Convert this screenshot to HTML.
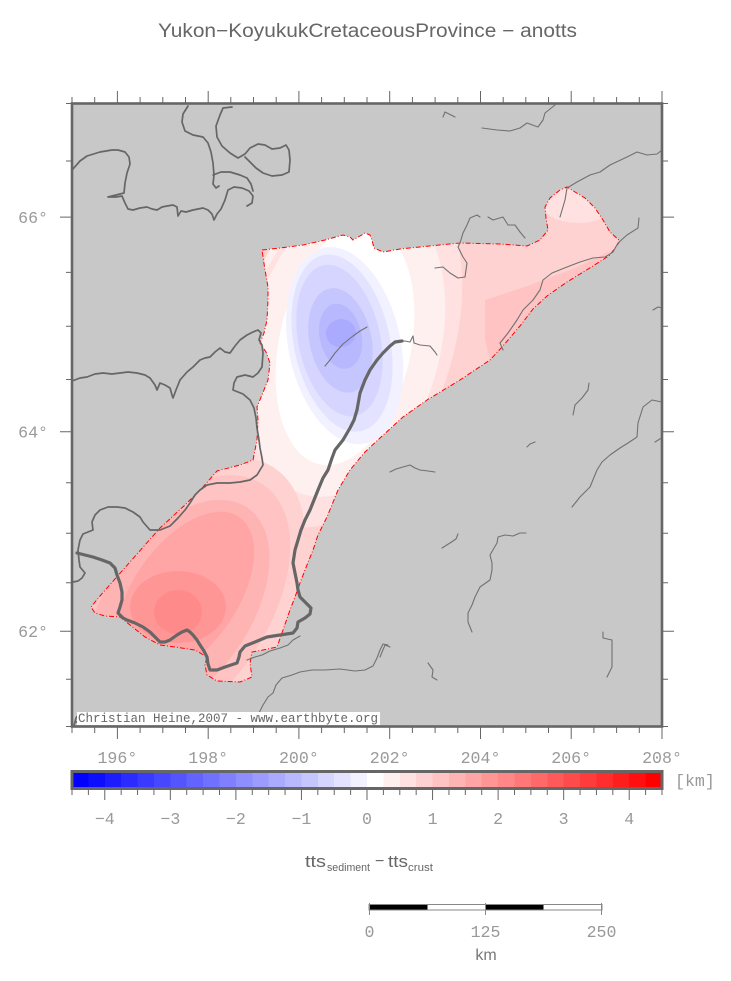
<!DOCTYPE html>
<html><head><meta charset="utf-8"><style>
html,body{margin:0;padding:0;background:#fff;}
svg{display:block;}
.mono{font-family:"Liberation Mono","DejaVu Sans Mono",monospace;font-size:16.6px;fill:#999;}
.sans{font-family:"Liberation Sans","DejaVu Sans",sans-serif;}
</style></head><body>
<svg width="731" height="981" viewBox="0 0 731 981" xmlns="http://www.w3.org/2000/svg">
<defs>
<clipPath id="poly"><polygon points="262,250 280,248 303,245 325,240 343,235 350,237 353,240 360,236 365,233 370,235 372,240 374,248 383,252 400,249 420,247 460,243 500,244 527,246 540,240 548,230 546,218 545,207 550,198 560,190 567,187 575,192 585,198 595,208 603,220 610,232 620,241 610,255 593,266 567,282 547,296 533,309 520,326 503,346 490,360 460,380 427,400 403,417 380,438 365,452 350,470 338,490 327,517 318,535 313,550 305,570 300,583 295,597 290,610 283,630 277,647 263,650 252,652 250,663 252,677 240,682 217,681 207,675 205,665 207,657 195,650 175,647 160,645 145,637 130,625 120,617 105,616 95,613 91,607 100,596 130,562 160,528 185,505 203,487 217,471 240,465 253,460 257,440 258,420 257,407 262,395 268,380 270,363 266,352 260,343 264,333 267,320 268,300 268,287 265,270"/></clipPath>
<clipPath id="frame"><rect x="72" y="103.5" width="590" height="623"/></clipPath>
</defs>

<!-- title -->
<text class="sans" x="158" y="37" font-size="19" fill="#666" textLength="419" lengthAdjust="spacingAndGlyphs">Yukon−KoyukukCretaceousProvince − anotts</text>

<!-- map background -->
<rect x="72" y="103.5" width="590" height="623" fill="#c8c8c8"/>

<!-- colored field -->
<g clip-path="url(#poly)">
<rect x="80" y="180" width="560" height="520" fill="#ffd2d2"/>
<ellipse cx="578" cy="205" rx="35" ry="18" fill="#ffe1e1"/>
<polygon points="485,300 530,285 575,268 612,250 593,266 567,282 547,296 533,309 520,326 503,346 490,360 485,340" fill="#ffc3c3"/>
<ellipse cx="290" cy="300" rx="32" ry="65" fill="#fff0f0"/>
<ellipse cx="345" cy="350" rx="105" ry="185" transform="rotate(20 345 350)" fill="#ffe1e1"/>
<ellipse cx="345" cy="345" rx="95" ry="155" transform="rotate(15 345 345)" fill="#fff0f0"/>
<ellipse cx="345" cy="345" rx="66" ry="122" transform="rotate(12 345 345)" fill="#ffffff"/>
<!-- red lobe -->
<ellipse cx="178" cy="608" rx="100" ry="170" transform="rotate(35 178 608)" fill="#ffd2d2"/>
<ellipse cx="178" cy="608" rx="88" ry="150" transform="rotate(35 178 608)" fill="#ffc3c3"/>
<ellipse cx="178" cy="608" rx="72" ry="122" transform="rotate(35 178 608)" fill="#ffb4b4"/>
<ellipse cx="185" cy="595" rx="52" ry="95" transform="rotate(35 185 595)" fill="#ffa5a5"/>
<ellipse cx="178" cy="607" rx="48" ry="36" fill="#ff9696"/>
<ellipse cx="178" cy="612" rx="24" ry="22" fill="#ff8a8a"/>
<!-- blue rings -->
<g transform="rotate(-12 342 338)">
<ellipse cx="343" cy="346" rx="56" ry="100" fill="#f1f1ff"/>
<ellipse cx="341" cy="343" rx="48" ry="90" fill="#e3e3ff"/>
<ellipse cx="339" cy="340" rx="41" ry="77" fill="#d5d5ff"/>
<ellipse cx="340" cy="340" rx="31" ry="53" fill="#c6c6ff"/>
<ellipse cx="341" cy="336" rx="21" ry="33" fill="#b8b8ff"/>
<ellipse cx="342" cy="333" rx="15" ry="14" fill="#aaaaff"/>
</g>
</g>
<polygon points="262,250 280,248 303,245 325,240 343,235 350,237 353,240 360,236 365,233 370,235 372,240 374,248 383,252 400,249 420,247 460,243 500,244 527,246 540,240 548,230 546,218 545,207 550,198 560,190 567,187 575,192 585,198 595,208 603,220 610,232 620,241 610,255 593,266 567,282 547,296 533,309 520,326 503,346 490,360 460,380 427,400 403,417 380,438 365,452 350,470 338,490 327,517 318,535 313,550 305,570 300,583 295,597 290,610 283,630 277,647 263,650 252,652 250,663 252,677 240,682 217,681 207,675 205,665 207,657 195,650 175,647 160,645 145,637 130,625 120,617 105,616 95,613 91,607 100,596 130,562 160,528 185,505 203,487 217,471 240,465 253,460 257,440 258,420 257,407 262,395 268,380 270,363 266,352 260,343 264,333 267,320 268,300 268,287 265,270" fill="none" stroke="#ff0000" stroke-width="1" stroke-dasharray="5,2,1,2"/>

<g clip-path="url(#frame)" fill="none" stroke-linejoin="round" stroke-linecap="round">
<!-- rivers -->
<g stroke="#717171" stroke-width="1.1">
<path d="M325,366 L330,360 L335,353 L343,344 L353,336 L360,331 L367,327"/>
<path d="M395,342 L405,341 L410,342 L413,336 L414,343 L420,345 L430,346 L435,352 L437,355"/>
<path d="M252,727 L258,715 L263,705 L268,697 L273,693 L276,685 L282,678 L292,675 L300,672 L312,670 L325,670 L340,669 L355,671 L365,670 L373,666 L377,658 L380,650 L383,644 L388,645"/>
<path d="M247,660 L255,657 L262,655 L270,651 L280,648 L288,645 L293,640 L300,636"/>
<path d="M573,415 L575,405 L582,398 L588,390 L589,383"/>
<path d="M572,507 L580,497 L590,487 L597,470 L602,462 L610,455 L620,448 L628,443 L637,437 L638,423 L643,407 L652,400 L662,402"/>
<path d="M655,442 L663,437"/>
<path d="M527,447 L530,444 L535,442"/>
<path d="M390,472 L396,469 L403,467 L410,465 L415,468 L420,470 L428,471 L435,472"/>
<path d="M442,548 L450,543 L456,539 L458,534"/>
<path d="M472,632 L468,622 L468,613 L472,605 L475,597 L480,587 L490,580 L492,570 L492,563 L490,555 L497,543 L498,537 L505,535 L513,536 L520,533 L526,533"/>
<path d="M603,632 L603,638 L612,640 L612,667 L607,677"/>
<path d="M428,663 L433,670 L432,677 L437,680"/>
<path d="M380,657 L385,645 L390,647"/>
<path d="M443,117 L445,112 L455,117"/>
<path d="M482,128 L497,130 L510,131 L520,128 L527,123 L538,127 L543,120 L545,113 L555,105"/>
<path d="M560,217 L565,200 L567,188 L577,182 L590,175 L600,172 L610,165 L627,157 L637,152 L647,155 L657,154 L662,150"/>
<path d="M435,268 L443,267 L450,273 L458,278 L465,277 L467,263 L463,257 L458,247 L460,243 L463,233 L467,225 L470,218 L477,215 L480,217"/>
<path d="M488,217 L493,220 L503,217 L508,225 L515,225 L520,232 L525,238"/>
<path d="M503,350 L500,343 L508,333 L517,320 L523,310 L533,300 L540,290 L543,280 L552,273 L567,267 L580,262 L593,258 L605,257 L613,252 L618,243 L627,235 L638,228 L639,218"/>
<path d="M653,310 L658,307 L662,308"/>
</g>
<!-- coastlines -->
<g stroke="#666" stroke-width="1.7">
<path d="M72,170 L80,161 L87,156 L100,152 L112,150 L118,150 L125,152 L129,157 L130,164 L127,173 L125,183 L124,193 L116,195 L108,197 L116,197 L122,196 L125,203 L128,209 L133,210 L140,208 L147,207 L152,209 L157,210 L162,207 L167,206 L173,205 L177,207 L178,216 L181,211 L186,212 L193,210 L198,209 L203,208 L208,210 L212,214 L214,220 L217,214 L221,209 L225,200 L228,190 L234,187 L242,188 L249,191 L253,196 L252,203 L247,206"/>
<path d="M188,106 L183,114 L182,122 L185,131 L193,135 L203,137 L208,143 L211,152 L213,163 L214,175 L213,184 L216,188 L219,186"/>
<path d="M213,175 L221,172 L230,172 L240,175 L247,178 L251,184 L253,191"/>
<path d="M232,107 L223,108 L220,115 L216,126 L217,137 L222,146 L230,153 L238,158 L245,154 L250,148 L258,144 L265,145 L272,149 L280,148 L286,145 L289,150 L290,160 L289,172 L282,175 L272,176 L263,173 L256,168 L250,162 L245,157"/>
<path d="M72,381 L80,378 L87,377 L95,374 L103,373 L112,374 L120,373 L128,372 L137,373 L145,375 L150,378 L155,385 L157,390 L160,383 L165,385 L170,388 L172,395 L173,398 L176,390 L180,380 L187,372 L193,367 L200,360 L205,358 L210,357 L215,352 L220,348 L225,352 L230,353 L235,346 L240,340 L247,335 L253,332 L258,330 L261,333 L259,340 L262,345 L263,353 L262,367 L258,373 L253,377 L245,375 L237,377 L234,383 L233,390 L238,392 L243,394 L250,400 L254,408 L256,418 L257,428 L259,440 L260,448 L262,458 L263,465 L260,470 L257,475 L250,480 L240,482 L230,483 L217,483 L207,485 L200,490 L195,495 L190,503 L185,510 L178,518 L170,526 L160,530 L150,530 L143,522 L140,517 L133,512 L125,508 L117,507 L108,507 L100,510 L95,515 L92,522 L93,530 L88,532 L83,534 L80,540 L78,550 L79,560 L80,567 L85,573 L82,578 L78,581 L73,582"/>
<path d="M74,726 L76,718 L79,714 L82,716 L78,720 L84,713 L80,722 L75,722"/>
</g>
<path stroke="#666" stroke-width="3.2" d="M77,553 L85,555 L93,557 L102,560 L110,563 L115,568 L117,575 L120,583 L122,592 L122,600 L120,607 L118,613 L123,618 L127,620 L135,623 L143,627 L150,632 L155,637 L160,642 L165,642 L170,640 L177,635 L182,632 L187,630 L190,632 L193,635 L197,640 L200,645 L204,651 L207,657 L208,664 L210,670 L217,670 L225,667 L237,663 L239,657 L240,652 L245,646 L255,642 L267,637 L280,635 L293,633 L297,628 L298,622 L305,618 L310,614 L311,608 L306,603 L300,597 L298,590 L297,583 L295,573 L293,563 L295,550 L298,540 L301,530 L305,520 L310,510 L314,500 L318,490 L323,478 L328,470 L332,458 L335,450 L343,440 L350,428 L354,420 L357,410 L360,393 L365,380 L370,370 L377,360 L383,353 L390,346 L395,342 L402,341"/>
</g>

<!-- credit box -->
<rect x="77" y="712" width="303" height="13" fill="#fff"/>
<text x="78" y="722" font-family="Liberation Mono, monospace" font-size="12.8" fill="#666" textLength="300" lengthAdjust="spacingAndGlyphs">Christian Heine,2007 - www.earthbyte.org</text>

<!-- frame -->
<rect x="72" y="103.5" width="590" height="623" fill="none" stroke="#666" stroke-width="2.6"/>
<path stroke="#666" stroke-width="1" fill="none" d="
M72,103V97 M94.7,103V97 M117.4,103V91 M140.1,103V97 M162.8,103V97 M185.5,103V97 M208.2,103V91 M230.8,103V97 M253.5,103V97 M276.2,103V97 M298.9,103V91 M321.6,103V97 M344.3,103V97 M367,103V97 M389.7,103V91 M412.4,103V97 M435.1,103V97 M457.8,103V97 M480.5,103V91 M503.2,103V97 M525.8,103V97 M548.5,103V97 M571.2,103V91 M593.9,103V97 M616.6,103V97 M639.3,103V97 M662,103V91
M72,727V733 M94.7,727V733 M117.4,727V739 M140.1,727V733 M162.8,727V733 M185.5,727V733 M208.2,727V739 M230.8,727V733 M253.5,727V733 M276.2,727V733 M298.9,727V739 M321.6,727V733 M344.3,727V733 M367,727V733 M389.7,727V739 M412.4,727V733 M435.1,727V733 M457.8,727V733 M480.5,727V739 M503.2,727V733 M525.8,727V733 M548.5,727V733 M571.2,727V739 M593.9,727V733 M616.6,727V733 M639.3,727V733 M662,727V739
M72,103.5H66 M72,161H66 M72,217.1H60 M72,272.4H66 M72,326.3H66 M72,379.5H66 M72,431.7H60 M72,482.8H66 M72,533.2H66 M72,582.7H66 M72,631.3H60 M72,679.3H66 M72,726.5H66
M662,103.5H668 M662,161H668 M662,217.1H674 M662,272.4H668 M662,326.3H668 M662,379.5H668 M662,431.7H674 M662,482.8H668 M662,533.2H668 M662,582.7H668 M662,631.3H674 M662,679.3H668 M662,726.5H668"/>

<!-- axis labels -->
<text class="mono" x="48" y="223" text-anchor="end">66°</text>
<text class="mono" x="48" y="437.5" text-anchor="end">64°</text>
<text class="mono" x="48" y="637" text-anchor="end">62°</text>
<text class="mono" x="117.4" y="763" text-anchor="middle">196°</text>
<text class="mono" x="208.2" y="763" text-anchor="middle">198°</text>
<text class="mono" x="298.9" y="763" text-anchor="middle">200°</text>
<text class="mono" x="389.7" y="763" text-anchor="middle">202°</text>
<text class="mono" x="480.5" y="763" text-anchor="middle">204°</text>
<text class="mono" x="571.2" y="763" text-anchor="middle">206°</text>
<text class="mono" x="662" y="763" text-anchor="middle">208°</text>

<!-- colorbar -->
<g shape-rendering="crispEdges">
<rect x="72" y="771" width="16.6" height="17" fill="rgb(0,0,255)"/>
<rect x="88.39" y="771" width="16.6" height="17" fill="rgb(14,14,255)"/>
<rect x="104.78" y="771" width="16.6" height="17" fill="rgb(28,28,255)"/>
<rect x="121.17" y="771" width="16.6" height="17" fill="rgb(43,43,255)"/>
<rect x="137.56" y="771" width="16.6" height="17" fill="rgb(57,57,255)"/>
<rect x="153.94" y="771" width="16.6" height="17" fill="rgb(71,71,255)"/>
<rect x="170.33" y="771" width="16.6" height="17" fill="rgb(85,85,255)"/>
<rect x="186.72" y="771" width="16.6" height="17" fill="rgb(99,99,255)"/>
<rect x="203.11" y="771" width="16.6" height="17" fill="rgb(113,113,255)"/>
<rect x="219.5" y="771" width="16.6" height="17" fill="rgb(128,128,255)"/>
<rect x="235.89" y="771" width="16.6" height="17" fill="rgb(142,142,255)"/>
<rect x="252.28" y="771" width="16.6" height="17" fill="rgb(156,156,255)"/>
<rect x="268.67" y="771" width="16.6" height="17" fill="rgb(170,170,255)"/>
<rect x="285.06" y="771" width="16.6" height="17" fill="rgb(184,184,255)"/>
<rect x="301.44" y="771" width="16.6" height="17" fill="rgb(198,198,255)"/>
<rect x="317.83" y="771" width="16.6" height="17" fill="rgb(213,213,255)"/>
<rect x="334.22" y="771" width="16.6" height="17" fill="rgb(227,227,255)"/>
<rect x="350.61" y="771" width="16.6" height="17" fill="rgb(241,241,255)"/>
<rect x="367" y="771" width="16.6" height="17" fill="rgb(255,255,255)"/>
<rect x="383.39" y="771" width="16.6" height="17" fill="rgb(255,240,240)"/>
<rect x="399.78" y="771" width="16.6" height="17" fill="rgb(255,225,225)"/>
<rect x="416.17" y="771" width="16.6" height="17" fill="rgb(255,210,210)"/>
<rect x="432.56" y="771" width="16.6" height="17" fill="rgb(255,195,195)"/>
<rect x="448.94" y="771" width="16.6" height="17" fill="rgb(255,180,180)"/>
<rect x="465.33" y="771" width="16.6" height="17" fill="rgb(255,165,165)"/>
<rect x="481.72" y="771" width="16.6" height="17" fill="rgb(255,150,150)"/>
<rect x="498.11" y="771" width="16.6" height="17" fill="rgb(255,135,135)"/>
<rect x="514.5" y="771" width="16.6" height="17" fill="rgb(255,120,120)"/>
<rect x="530.89" y="771" width="16.6" height="17" fill="rgb(255,105,105)"/>
<rect x="547.28" y="771" width="16.6" height="17" fill="rgb(255,90,90)"/>
<rect x="563.67" y="771" width="16.6" height="17" fill="rgb(255,75,75)"/>
<rect x="580.06" y="771" width="16.6" height="17" fill="rgb(255,60,60)"/>
<rect x="596.44" y="771" width="16.6" height="17" fill="rgb(255,45,45)"/>
<rect x="612.83" y="771" width="16.6" height="17" fill="rgb(255,30,30)"/>
<rect x="629.22" y="771" width="16.6" height="17" fill="rgb(255,15,15)"/>
<rect x="645.61" y="771" width="16.4" height="17" fill="rgb(255,0,0)"/>
</g>
<rect x="72" y="771.5" width="590" height="17" fill="none" stroke="#666" stroke-width="3"/>
<path stroke="#666" stroke-width="1" fill="none" d="
M72,790V795 M88.39,790V795 M104.78,790V800 M121.17,790V795 M137.56,790V795 M153.94,790V795 M170.33,790V800 M186.72,790V795 M203.11,790V795 M219.5,790V795 M235.89,790V800 M252.28,790V795 M268.67,790V795 M285.06,790V795 M301.44,790V800 M317.83,790V795 M334.22,790V795 M350.61,790V795 M367,790V800 M383.39,790V795 M399.78,790V795 M416.17,790V795 M432.56,790V800 M448.94,790V795 M465.33,790V795 M481.72,790V795 M498.11,790V800 M514.5,790V795 M530.89,790V795 M547.28,790V795 M563.67,790V800 M580.06,790V795 M596.44,790V795 M612.83,790V795 M629.22,790V800 M645.61,790V795 M662,790V795"/>
<text class="mono" x="104.78" y="824" text-anchor="middle">−4</text>
<text class="mono" x="170.33" y="824" text-anchor="middle">−3</text>
<text class="mono" x="235.89" y="824" text-anchor="middle">−2</text>
<text class="mono" x="301.44" y="824" text-anchor="middle">−1</text>
<text class="mono" x="367" y="824" text-anchor="middle">0</text>
<text class="mono" x="432.56" y="824" text-anchor="middle">1</text>
<text class="mono" x="498.11" y="824" text-anchor="middle">2</text>
<text class="mono" x="563.67" y="824" text-anchor="middle">3</text>
<text class="mono" x="629.22" y="824" text-anchor="middle">4</text>
<text class="mono" x="675" y="786">[km]</text>

<!-- axis title -->
<g class="sans" fill="#666">
<text x="305" y="867" font-size="17" textLength="21" lengthAdjust="spacingAndGlyphs">tts</text>
<text x="327" y="871" font-size="11" textLength="43" lengthAdjust="spacingAndGlyphs">sediment</text>
<text x="375" y="866" font-size="16">−</text>
<text x="388" y="867" font-size="17" textLength="20" lengthAdjust="spacingAndGlyphs">tts</text>
<text x="408" y="871" font-size="11" textLength="25" lengthAdjust="spacingAndGlyphs">crust</text>
</g>

<!-- scale bar -->
<rect x="369" y="904.5" width="233" height="5.5" fill="#fff" stroke="#888" stroke-width="1"/>
<rect x="369.5" y="905" width="58" height="4.5" fill="#000"/>
<rect x="485.5" y="905" width="58" height="4.5" fill="#000"/>
<path stroke="#888" stroke-width="1" d="M369.5,903V915 M485.5,903V915 M601.5,903V915"/>
<text class="mono" x="369.5" y="937" text-anchor="middle">0</text>
<text class="mono" x="485.5" y="937" text-anchor="middle">125</text>
<text class="mono" x="601.5" y="937" text-anchor="middle">250</text>
<text class="sans" x="486" y="960" font-size="16" fill="#777" text-anchor="middle">km</text>
</svg>
</body></html>
